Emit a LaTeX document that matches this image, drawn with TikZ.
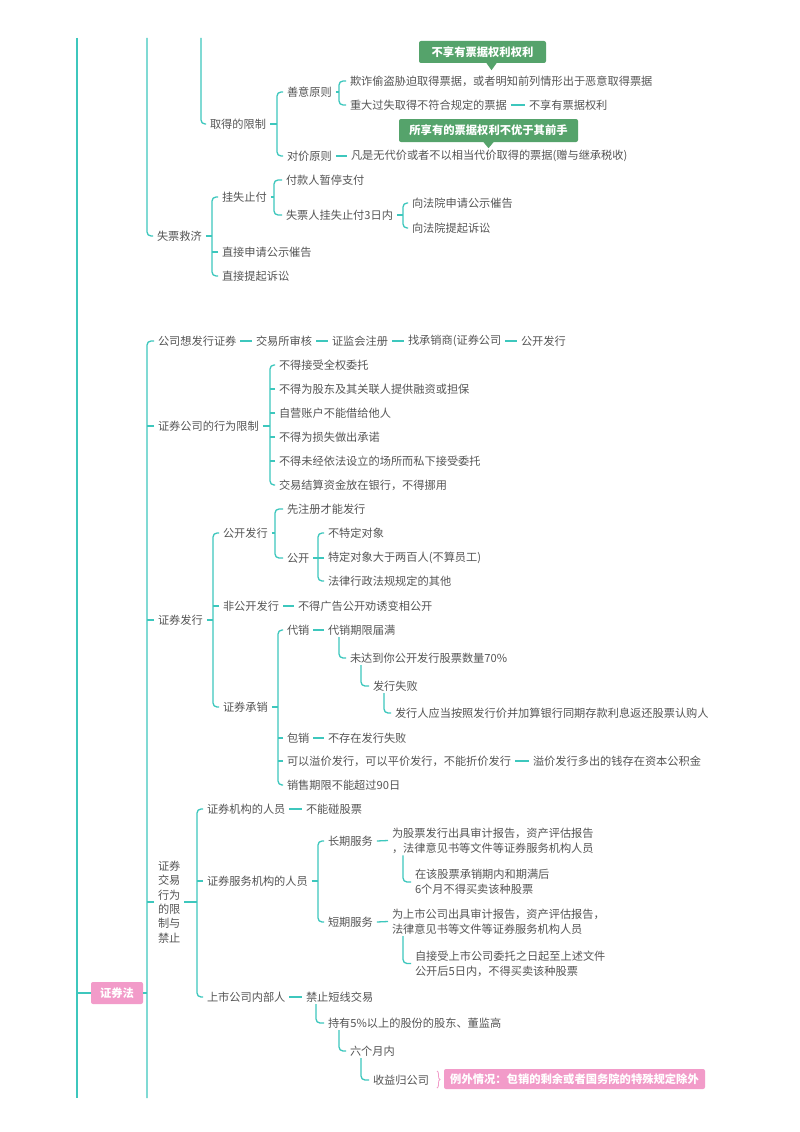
\documentclass[tikz,border=0pt]{standalone}
\usepackage{fontspec}
\setmainfont{Noto Sans CJK SC}
\usetikzlibrary{decorations.pathreplacing,calc}
\definecolor{ln}{HTML}{3DC7BD}
\definecolor{tx}{HTML}{555555}
\definecolor{gbox}{HTML}{55A36B}
\definecolor{pk}{HTML}{F29BC9}
\tikzset{
 txt/.style={font=\fontsize{11.2}{15}\selectfont, text=tx, inner xsep=0pt, outer xsep=4pt, inner ysep=2pt, outer ysep=0pt, anchor=west, align=left},
 conn/.style={draw=ln, line width=1.3pt},
 br/.style={conn, rounded corners=4pt},
 gtag/.style={fill=gbox, text=white, font=\fontsize{11.3}{13}\selectfont\bfseries, rounded corners=2pt, inner xsep=4pt, inner ysep=2pt},
 ptag/.style={fill=pk, text=white, font=\fontsize{11.3}{13}\selectfont\bfseries, rounded corners=2pt, inner xsep=4pt, inner ysep=2pt},
}
\newcommand{\mmbr}[3]{\draw[br] (#2.west) -| (#1 |- #3.west) -- (#3.west);}
\newcommand{\mmtk}[2]{\draw[conn] (#2.west) -- (#2.west -| #1);}
\newcommand{\mmpt}[2]{\draw[conn] (#2.east) -- (#2.east -| #1);}
\newcommand{\mmln}[2]{\draw[conn] (#1.east) -- (#2.west);}
\newcommand{\mmL}[2]{\draw[br] ([xshift=15pt]#1.south west) |- (#2.west);}
\begin{document}
\begin{tikzpicture}[x=1pt,y=-1pt]
\useasboundingbox[fill=white] (0,0) rectangle (800,1132);
% trunk coordinates
\coordinate (t77) at (77,38); \coordinate (b77) at (77,1098);
\coordinate (t147) at (147,38); \coordinate (b147) at (147,1098);
\coordinate (t201) at (201,38);
% spines
\coordinate (sQD) at (277,0);
\coordinate (sSY) at (339,0);
\coordinate (sSP) at (212,0);
\coordinate (sGS) at (274,0);
\coordinate (sS3) at (403,0);
\coordinate (sXW) at (270,0);
\coordinate (sFX) at (213,0);
\coordinate (sGK) at (275,0);
\coordinate (sGO) at (318,0);
\coordinate (sCX) at (278,0);
\coordinate (sJY) at (197,0);
\coordinate (sFW) at (318,0);

% ---------- top part ----------
\node[txt] (qdxz) at (206,124) {取得的限制};
\node[txt] (syyz) at (283,92) {善意原则};
\node[txt] (djyz) at (283,156) {对价原则};
\node[txt] (qz) at (346,81) {欺诈偷盗胁迫取得票据，或者明知前列情形出于恶意取得票据};
\node[txt] (zdgs) at (346,105) {重大过失取得不符合规定的票据};
\node[txt] (bxy1) at (525,105) {不享有票据权利};
\node[txt] (fsw) at (347,156) {凡是无代价或者不以相当代价取得的票据(赠与继承税收)};
\node[gtag, minimum width=127pt, minimum height=22pt] (gb1) at (482.5,52) {不享有票据权利权利};
\fill[gbox] ([xshift=4pt]gb1.south) -- ([xshift=14pt]gb1.south) -- ([xshift=9pt,yshift=-7pt]gb1.south) -- cycle;
\node[gtag, minimum width=179pt, minimum height=23pt] (gb2) at (488.5,130.5) {所享有的票据权利不优于其前手};
\fill[gbox] ([xshift=-5pt]gb2.south) -- ([xshift=5pt]gb2.south) -- ([yshift=-6pt]gb2.south) -- cycle;

\draw[br] (t201) |- (qdxz.west);
\mmpt{sQD}{qdxz}
\mmbr{sQD}{syyz}{djyz}
\mmpt{sSY}{syyz}
\mmbr{sSY}{qz}{zdgs}
\mmln{zdgs}{bxy1}
\mmln{djyz}{fsw}

\node[txt] (sp) at (153,236) {失票救济};
\node[txt] (gszf) at (218,197) {挂失止付};
\node[txt] (zjsq) at (218,252) {直接申请公示催告};
\node[txt] (zjtq) at (218,276) {直接提起诉讼};
\node[txt] (fkr) at (282,180) {付款人暂停支付};
\node[txt] (sp3) at (282,215) {失票人挂失止付3日内};
\node[txt] (xfy1) at (408,203) {向法院申请公示催告};
\node[txt] (xfy2) at (408,228) {向法院提起诉讼};

\draw[br] (t147) |- (sp.west);
\mmpt{sSP}{sp}
\mmbr{sSP}{gszf}{zjtq}
\mmtk{sSP}{zjsq}
\mmpt{sGS}{gszf}
\mmbr{sGS}{fkr}{sp3}
\mmpt{sS3}{sp3}
\mmbr{sS3}{xfy1}{xfy2}

% ---------- trunk and root ----------
\draw[conn] (t77) -- (b77);
\node[ptag, minimum width=52pt, minimum height=22pt] (zqf) at (117,993) {证券法};
\draw[conn] (zqf.west) -- (zqf.west -| b77);
\draw[conn] (zqf.east) -- (zqf.east -| b147);

% ---------- 证券法 children ----------
\node[txt] (gs) at (154,341) {公司想发行证券};
\node[txt] (jys) at (252,341) {交易所审核};
\node[txt] (zjh) at (328,341) {证监会注册};
\node[txt] (zcx) at (404,341) {找承销商(证券公司};
\node[txt] (gkfx0) at (517,341) {公开发行};
\draw[br] (gs.west) -| (b147);
\mmln{gs}{jys}
\mmln{jys}{zjh}
\mmln{zjh}{zcx}
\mmln{zcx}{gkfx0}

\node[txt] (zgxw) at (154,426) {证券公司的行为限制};
\mmtk{b147}{zgxw}
\node[txt] (xw1) at (275,365) {不得接受全权委托};
\node[txt] (xw2) at (275,389) {不得为股东及其关联人提供融资或担保};
\node[txt] (xw3) at (275,413) {自营账户不能借给他人};
\node[txt] (xw4) at (275,437) {不得为损失做出承诺};
\node[txt] (xw5) at (275,461) {不得未经依法设立的场所而私下接受委托};
\node[txt] (xw6) at (275,485) {交易结算资金放在银行，不得挪用};
\mmpt{sXW}{zgxw}
\mmbr{sXW}{xw1}{xw6}
\mmtk{sXW}{xw2}
\mmtk{sXW}{xw3}
\mmtk{sXW}{xw4}
\mmtk{sXW}{xw5}

\node[txt] (zqfx) at (154,620) {证券发行};
\mmtk{b147}{zqfx}
\node[txt] (gkfx) at (219,533) {公开发行};
\node[txt] (fgk) at (219,606) {非公开发行};
\node[txt] (zqcx) at (219,707) {证券承销};
\mmpt{sFX}{zqfx}
\mmbr{sFX}{gkfx}{zqcx}
\mmtk{sFX}{fgk}

\node[txt] (xzc) at (283,509) {先注册才能发行};
\node[txt] (gk) at (283,558) {公开};
\mmpt{sGK}{gkfx}
\mmbr{sGK}{xzc}{gk}
\node[txt] (btd) at (324,533) {不特定对象};
\node[txt] (tdx) at (324,558) {特定对象大于两百人(不算员工)};
\node[txt] (flx) at (324,581) {法律行政法规规定的其他};
\mmpt{sGO}{gk}
\mmbr{sGO}{btd}{flx}
\mmtk{sGO}{tdx}

\node[txt] (bdg) at (294,606) {不得广告公开劝诱变相公开};
\mmln{fgk}{bdg}

\node[txt] (dx) at (283,630) {代销};
\node[txt] (bx) at (283,738) {包销};
\node[txt] (kyy) at (283,761) {可以溢价发行，可以平价发行，不能折价发行};
\node[txt] (xsq) at (283,785) {销售期限不能超过90日};
\mmpt{sCX}{zqcx}
\mmbr{sCX}{dx}{xsq}
\mmtk{sCX}{bx}
\mmtk{sCX}{kyy}
\node[txt] (dxqx) at (324,630) {代销期限届满};
\mmln{dx}{dxqx}
\node[txt] (wdd) at (346,658) {未达到你公开发行股票数量70\%};
\node[txt] (fxsb) at (369,686) {发行失败};
\node[txt] (fxr) at (391,713) {发行人应当按照发行价并加算银行同期存款利息返还股票认购人};
\mmL{dxqx}{wdd}
\mmL{wdd}{fxsb}
\mmL{fxsb}{fxr}
\node[txt] (bcz) at (324,738) {不存在发行失败};
\mmln{bx}{bcz}
\node[txt] (yjfx) at (529,761) {溢价发行多出的钱存在资本公积金};
\mmln{kyy}{yjfx}

\node[txt, font=\fontsize{11.2}{14.3}\selectfont] (zqjy) at (154,902) {证券\\交易\\行为\\的限\\制与\\禁止};
\mmtk{b147}{zqjy}
\node[txt] (zqjg) at (203,809) {证券机构的人员};
\node[txt] (zqfw) at (203,881) {证券服务机构的人员};
\node[txt] (ssgs) at (203,997) {上市公司内部人};
\mmpt{sJY}{zqjy}
\mmbr{sJY}{zqjg}{ssgs}
\mmtk{sJY}{zqfw}
\node[txt] (bnp) at (302,809) {不能碰股票};
\mmln{zqjg}{bnp}

\node[txt] (cqfw) at (324,841) {长期服务};
\node[txt] (dqfw) at (324,922) {短期服务};
\mmpt{sFW}{zqfw}
\mmbr{sFW}{cqfw}{dqfw}
\node[txt] (cqt) at (388,840.5) {为股票发行出具审计报告，资产评估报告\\，法律意见书等文件等证券服务机构人员};
\mmln{cqfw}{cqt}
\node[txt] (zgs) at (411,882) {在该股票承销期内和期满后\\6个月不得买卖该种股票};
\mmL{cqt}{zgs}
\node[txt] (dqt) at (388,921.5) {为上市公司出具审计报告，资产评估报告，\\法律意见书等文件等证券服务机构人员};
\mmln{dqfw}{dqt}
\node[txt] (zjs) at (411,963.5) {自接受上市公司委托之日起至上述文件\\公开后5日内，不得买卖该种股票};
\mmL{dqt}{zjs}

\node[txt] (jzdx) at (302,997) {禁止短线交易};
\mmln{ssgs}{jzdx}
\node[txt] (cy5) at (324,1023) {持有5\%以上的股份的股东、董监高};
\node[txt] (lgy) at (346,1051) {六个月内};
\node[txt] (syg) at (369,1080) {收益归公司};
\draw[br] ([xshift=14pt]jzdx.south west) |- (cy5.west);
\mmL{cy5}{lgy}
\mmL{lgy}{syg}

\coordinate (brt) at (437,1071);
\coordinate (brb) at (437,1088);
\draw[pk, line width=0.8pt, decorate, decoration={brace, amplitude=3pt}] (brt) -- (brb);
\node[ptag, minimum width=261pt, minimum height=20pt] (lw) at (574.5,1079) {例外情况：包销的剩余或者国务院的特殊规定除外};
\end{tikzpicture}
\end{document}
